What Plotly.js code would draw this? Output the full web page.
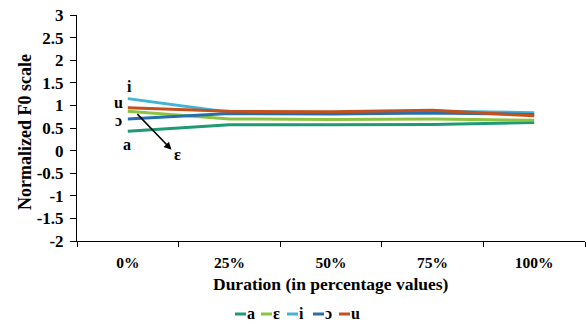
<!DOCTYPE html>
<html>
<head>
<meta charset="utf-8">
<script src="https://cdn.plot.ly/plotly-3.0.1.min.js"></script>
<style>html,body{margin:0;padding:0;background:#fff}#chart{width:586px;height:323px}</style>
</head>
<body>
<div id="chart"></div>
<script>
const categories = ["0%", "25%", "50%", "75%", "100%"];
const seriesNames = ["a", "ɛ", "i", "ɔ", "u"];
const aValues = [0.43, 0.57, 0.57, 0.58, 0.62];
const eValues = [0.87, 0.70, 0.69, 0.70, 0.67];
const iValues = [1.15, 0.85, 0.84, 0.87, 0.84];
const oValues = [0.70, 0.82, 0.81, 0.83, 0.80];
const uValues = [0.95, 0.87, 0.86, 0.89, 0.77];
const yTickVals = [-2, -1.5, -1, -0.5, 0, 0.5, 1, 1.5, 2, 2.5, 3];
const yTickText = ["-2", "-1.5", "-1", "-0.5", "0", "0.5", "1", "1.5", "2", "2.5", "3"];
const colors = ["#1f9a74", "#8cc342", "#3fb4d6", "#2470ad", "#c4501d"];
const allValues = [aValues, eValues, iValues, oValues, uValues];

const W = 586, H = 323, M = {l: 77, r: 1, t: 15, b: 82};
const pw = W - M.l - M.r, ph = H - M.t - M.b;
const px = x => (x - M.l) / pw;          // page px -> paper x
const py = y => (H - M.b - y) / ph;      // page px -> paper y

const font = "Liberation Serif, Times New Roman, serif";
const bold = (size) => ({family: font, size: size, color: "#000", weight: "bold"});
const traces = allValues.map((v, k) => ({
  x: categories, y: v, type: "scatter", mode: "lines", name: seriesNames[k],
  line: {color: colors[k], width: 3}, showlegend: false
}));

const annotations = [
  {x: 0.02, y: 1.42, text: "i"},
  {x: -0.09, y: 1.07, text: "u"},
  {x: -0.09, y: 0.67, text: "ɔ"},
  {x: -0.01, y: 0.13, text: "a"},
  {x: 0.49, y: -0.09, text: "ɛ"}
].map(a => Object.assign({xref: "x", yref: "y", showarrow: false, font: bold(16)}, a));
annotations.push({
  xref: "x", yref: "y", axref: "x", ayref: "y",
  x: 0.43, y: 0.02, ax: 0.08, ay: 0.84,
  showarrow: true, arrowhead: 2, arrowsize: 1, arrowwidth: 1.5, arrowcolor: "#000", text: ""
});
// axis titles
annotations.push({xref: "paper", yref: "paper", x: 0.5, y: py(284), xanchor: "center", yanchor: "middle",
  showarrow: false, text: "Duration (in percentage values)", font: bold(17.5)});
annotations.push({xref: "paper", yref: "paper", x: px(25), y: py(132), xanchor: "center", yanchor: "middle",
  showarrow: false, textangle: -90, text: "Normalized F0 scale", font: bold(18)});

// compact legend built from series names and colours
const shapes = [];
seriesNames.forEach((n, k) => {
  const x0 = 235 + 26 * k;
  shapes.push({type: "line", xref: "paper", yref: "paper", x0: px(x0), x1: px(x0 + 11),
    y0: py(314), y1: py(314), line: {color: colors[k], width: 3}});
  annotations.push({xref: "paper", yref: "paper", x: px(x0 + 11), y: py(313), xanchor: "left", yanchor: "middle",
    showarrow: false, text: n, font: bold(16), xshift: -1});
});

const layout = {
  width: W, height: H,
  margin: M,
  paper_bgcolor: "#fff", plot_bgcolor: "#fff",
  font: {family: font, color: "#000"},
  showlegend: false,
  xaxis: {
    type: "category", range: [-0.5, 4.5], showline: true, linecolor: "#000", linewidth: 1,
    ticks: "outside", tickson: "boundaries", ticklen: 5, tickcolor: "#000", showgrid: false,
    tickfont: bold(15.5), ticklabelstandoff: 7, zeroline: false
  },
  yaxis: {
    range: [-2, 3], tickvals: yTickVals, ticktext: yTickText, showline: true, linecolor: "#000", linewidth: 1,
    ticks: "outside", ticklen: 6, tickcolor: "#000", showgrid: false, zeroline: false,
    tickfont: bold(17), ticklabelstandoff: 3
  },
  shapes: shapes,
  annotations: annotations
};
Plotly.newPlot("chart", traces, layout, {displayModeBar: false, staticPlot: true});
</script>
</body>
</html>
